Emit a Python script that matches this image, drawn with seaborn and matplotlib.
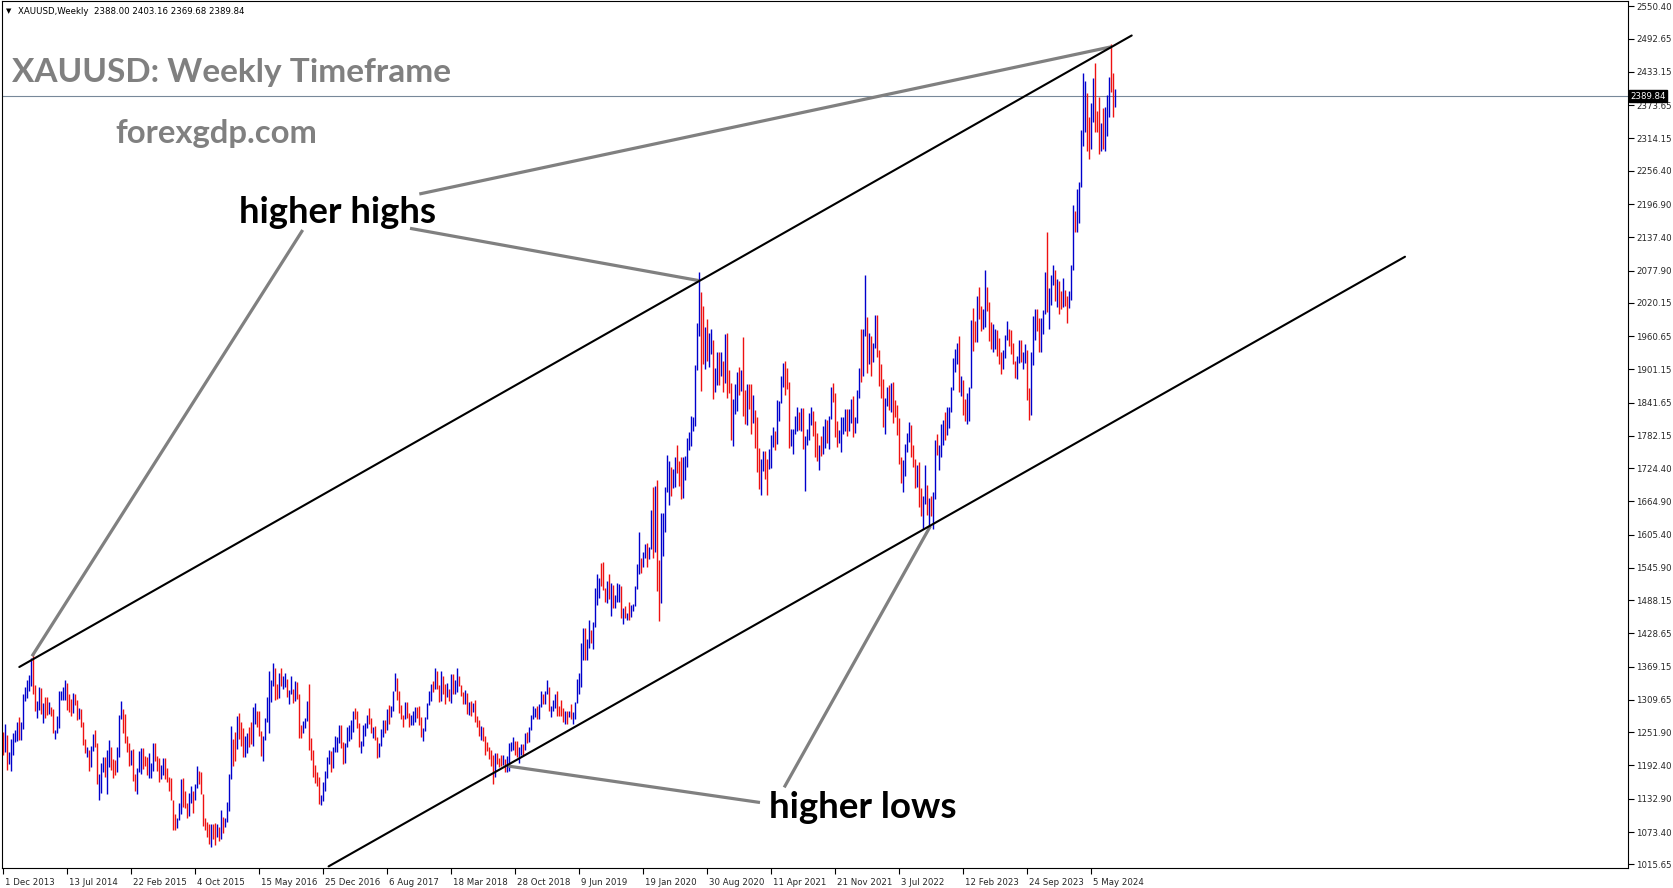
import numpy as np
import pandas as pd
import matplotlib
matplotlib.use("Agg")
import matplotlib.pyplot as plt
import matplotlib.transforms as mtransforms
import seaborn as sns

# ---------------- data (weekly XAUUSD bars, week of 1 Dec 2013 .. 28 Jul 2024) -------------
symbol = "XAUUSD,Weekly"
first_open = 1250.0

closes = [
    # 2013
    1229, 1235, 1203, 1213, 1237,
    # 2014
    1247, 1254, 1265, 1240, 1262, 1318, 1324, 1327, 1339, 1379, 1335, 1294, 1303, 1318, 1293, 1301, 1300, 1289,
    1293, 1292, 1251, 1252, 1274, 1316, 1316, 1317, 1337, 1310, 1303, 1294, 1310, 1305, 1280, 1287, 1268, 1230,
    1216, 1218, 1192, 1222, 1238, 1231, 1171, 1177, 1190, 1197, 1175, 1191, 1222, 1196, 1195, 1186,
    # 2015
    1216, 1277, 1293, 1279, 1234, 1228, 1204, 1212, 1165, 1153, 1182, 1198, 1219, 1207, 1203, 1178, 1178, 1189,
    1225, 1205, 1189, 1168, 1180, 1201, 1173, 1168, 1157, 1131, 1098, 1094, 1094, 1113, 1160, 1134, 1121, 1103,
    1138, 1146, 1137, 1156, 1182, 1163, 1141, 1088, 1081, 1077, 1056, 1086, 1076, 1065, 1076, 1061,
    # 2016
    1098, 1089, 1097, 1117, 1173, 1239, 1227, 1222, 1270, 1259, 1254, 1217, 1222, 1243, 1235, 1231, 1290, 1290,
    1273, 1252, 1213, 1242, 1275, 1298, 1322, 1339, 1366, 1327, 1322, 1351, 1335, 1336, 1340, 1321, 1326, 1328,
    1310, 1339, 1316, 1256, 1251, 1267, 1276, 1304, 1224, 1208, 1183, 1177, 1160, 1133, 1133, 1152,
    # 2017
    1173, 1197, 1205, 1190, 1220, 1234, 1235, 1257, 1226, 1201, 1229, 1249, 1249, 1253, 1287, 1284, 1268, 1227,
    1228, 1253, 1267, 1280, 1271, 1254, 1256, 1242, 1212, 1228, 1254, 1269, 1258, 1289, 1285, 1291, 1325, 1346,
    1320, 1297, 1280, 1275, 1304, 1280, 1266, 1270, 1275, 1294, 1287, 1280, 1248, 1256, 1278, 1303, 1320,
    # 2018
    1338, 1332, 1350, 1333, 1315, 1347, 1330, 1323, 1323, 1313, 1347, 1323, 1332, 1346, 1336, 1323, 1315, 1320,
    1291, 1302, 1294, 1299, 1278, 1270, 1252, 1254, 1241, 1231, 1223, 1214, 1211, 1184, 1206, 1201, 1198, 1193,
    1199, 1192, 1203, 1218, 1226, 1235, 1232, 1209, 1222, 1222, 1221, 1248, 1238, 1256, 1280, 1285,
    # 2019
    1290, 1282, 1298, 1318, 1314, 1322, 1328, 1293, 1298, 1302, 1313, 1292, 1291, 1290, 1276, 1287, 1280, 1285,
    1277, 1284, 1305, 1341, 1341, 1399, 1409, 1400, 1415, 1426, 1419, 1440, 1497, 1513, 1526, 1520, 1506, 1488,
    1516, 1497, 1504, 1488, 1490, 1505, 1510, 1459, 1468, 1462, 1463, 1460, 1476, 1479, 1510, 1552,
    # 2020
    1560, 1557, 1571, 1589, 1570, 1584, 1643, 1586, 1674, 1530, 1498, 1617, 1620, 1683, 1684, 1726, 1700, 1703,
    1743, 1735, 1730, 1684, 1730, 1743, 1771, 1775, 1799, 1811, 1902, 1975, 2035, 1944, 1940, 1964, 1933, 1940,
    1950, 1862, 1900, 1930, 1899, 1902, 1878, 1951, 1888, 1872, 1788, 1839, 1839, 1881, 1877, 1898,
    # 2021
    1849, 1828, 1856, 1848, 1813, 1824, 1784, 1734, 1700, 1727, 1745, 1732, 1729, 1744, 1777, 1777, 1769, 1831,
    1844, 1881, 1903, 1892, 1877, 1764, 1781, 1787, 1810, 1812, 1802, 1814, 1763, 1780, 1781, 1818, 1827, 1788,
    1754, 1751, 1761, 1757, 1767, 1793, 1783, 1817, 1864, 1846, 1788, 1783, 1783, 1797, 1810, 1828,
    # 2022
    1797, 1817, 1835, 1791, 1807, 1859, 1898, 1889, 1966, 1989, 1921, 1958, 1925, 1946, 1975, 1931, 1896, 1883,
    1811, 1846, 1853, 1851, 1871, 1840, 1827, 1811, 1742, 1708, 1727, 1766, 1775, 1802, 1747, 1738, 1712, 1716,
    1675, 1644, 1661, 1694, 1644, 1657, 1644, 1681, 1769, 1751, 1755, 1797, 1797, 1793, 1798, 1824,
    # 2023
    1865, 1920, 1926, 1928, 1865, 1865, 1841, 1811, 1855, 1867, 1989, 1978, 1969, 2007, 2004, 1982, 1990, 2017,
    2011, 1978, 1946, 1948, 1961, 1958, 1921, 1919, 1925, 1955, 1962, 1959, 1942, 1914, 1889, 1915, 1940, 1919,
    1924, 1925, 1849, 1833, 1933, 1981, 2006, 1993, 1940, 1981, 2002, 2072, 2004, 2019, 2053, 2063, 2045,
    # 2024
    2049, 2029, 2018, 2039, 2024, 2013, 2035, 2082, 2179, 2155, 2166, 2233, 2330, 2344, 2392, 2337, 2301, 2360,
    2414, 2334, 2327, 2294, 2333, 2322, 2326, 2392, 2411, 2400, 2388, 2389.84,
]

highs = [
    1252, 1267, 1247, 1216, 1240,
    1251, 1256, 1271, 1280, 1271, 1320, 1332, 1345, 1355, 1384, 1392, 1337, 1308, 1332, 1331, 1304, 1315, 1315,
    1306, 1297, 1294, 1256, 1281, 1325, 1326, 1332, 1346, 1340, 1320, 1312, 1322, 1321, 1310, 1296, 1294, 1270,
    1239, 1226, 1220, 1227, 1249, 1255, 1233, 1178, 1197, 1208, 1207, 1220, 1238, 1226, 1204, 1202,
    1225, 1282, 1307, 1292, 1284, 1246, 1233, 1221, 1222, 1178, 1188, 1219, 1224, 1224, 1210, 1207, 1214, 1196,
    1232, 1232, 1209, 1205, 1194, 1205, 1205, 1188, 1171, 1170, 1131, 1105, 1098, 1126, 1168, 1170, 1147, 1126,
    1143, 1156, 1145, 1160, 1191, 1178, 1181, 1142, 1098, 1092, 1087, 1088, 1088, 1089, 1088, 1082,
    1112, 1101, 1099, 1127, 1177, 1263, 1240, 1253, 1281, 1287, 1271, 1259, 1245, 1250, 1262, 1271, 1297, 1305,
    1284, 1290, 1254, 1245, 1277, 1315, 1362, 1345, 1375, 1366, 1338, 1358, 1367, 1352, 1357, 1348, 1327, 1352,
    1330, 1343, 1342, 1320, 1265, 1272, 1277, 1307, 1338, 1241, 1220, 1193, 1180, 1172, 1139, 1163,
    1182, 1207, 1220, 1219, 1226, 1245, 1244, 1264, 1264, 1234, 1233, 1261, 1264, 1274, 1289, 1295, 1290, 1268,
    1236, 1264, 1269, 1283, 1296, 1277, 1261, 1263, 1243, 1233, 1257, 1274, 1274, 1294, 1301, 1298, 1326, 1357,
    1349, 1325, 1301, 1283, 1306, 1306, 1286, 1283, 1289, 1297, 1297, 1299, 1280, 1260, 1280, 1305, 1326,
    1338, 1344, 1366, 1361, 1337, 1362, 1353, 1338, 1340, 1329, 1356, 1356, 1345, 1366, 1353, 1337, 1322, 1327,
    1322, 1306, 1308, 1304, 1310, 1281, 1274, 1263, 1262, 1245, 1235, 1226, 1220, 1211, 1214, 1214, 1206, 1211,
    1211, 1204, 1209, 1233, 1234, 1243, 1237, 1237, 1225, 1230, 1230, 1250, 1252, 1261, 1283, 1298,
    1295, 1298, 1303, 1326, 1320, 1326, 1346, 1332, 1299, 1310, 1320, 1325, 1298, 1310, 1296, 1289, 1289, 1289,
    1303, 1288, 1306, 1348, 1358, 1411, 1439, 1438, 1419, 1452, 1434, 1449, 1510, 1535, 1527, 1555, 1557, 1510,
    1523, 1535, 1519, 1516, 1498, 1518, 1517, 1514, 1474, 1477, 1466, 1484, 1480, 1482, 1514, 1553,
    1611, 1564, 1575, 1589, 1591, 1581, 1650, 1690, 1692, 1704, 1560, 1645, 1645, 1690, 1747, 1738, 1722, 1723,
    1745, 1765, 1737, 1745, 1744, 1746, 1779, 1789, 1818, 1815, 1908, 1984, 2075, 2039, 2015, 1976, 1992, 1966,
    1973, 1954, 1904, 1933, 1933, 1933, 1916, 1965, 1966, 1900, 1876, 1848, 1875, 1896, 1906, 1900,
    1959, 1865, 1875, 1875, 1875, 1855, 1828, 1816, 1760, 1740, 1755, 1755, 1740, 1758, 1784, 1798, 1790, 1846,
    1845, 1890, 1912, 1916, 1903, 1878, 1795, 1795, 1818, 1834, 1825, 1832, 1832, 1781, 1795, 1823, 1834, 1827,
    1808, 1787, 1765, 1781, 1800, 1813, 1810, 1818, 1870, 1877, 1859, 1809, 1793, 1815, 1815, 1831,
    1831, 1830, 1848, 1853, 1815, 1865, 1903, 1974, 1973, 2070, 1994, 1966, 1960, 1948, 1998, 1998, 1936, 1910,
    1884, 1850, 1870, 1874, 1877, 1879, 1847, 1837, 1814, 1745, 1739, 1767, 1788, 1807, 1802, 1765, 1740, 1730,
    1735, 1688, 1675, 1730, 1688, 1671, 1675, 1682, 1774, 1786, 1765, 1804, 1810, 1824, 1833, 1833,
    1870, 1922, 1937, 1949, 1960, 1890, 1882, 1848, 1858, 1870, 1989, 2010, 1987, 2032, 2048, 2015, 2009, 2079,
    2048, 2021, 1985, 1983, 1973, 1971, 1958, 1933, 1935, 1963, 1987, 1973, 1972, 1949, 1916, 1925, 1953, 1953,
    1933, 1947, 1935, 1867, 1932, 1997, 2009, 2009, 1993, 1993, 2008, 2075, 2146, 2047, 2070, 2088, 2078,
    2062, 2060, 2041, 2065, 2043, 2032, 2041, 2088, 2195, 2185, 2223, 2236, 2330, 2431, 2417, 2395, 2353, 2378,
    2422, 2450, 2364, 2388, 2342, 2368, 2370, 2392, 2425, 2483, 2432, 2403.16,
]

lows = [
    1211, 1217, 1185, 1195, 1182,
    1211, 1234, 1236, 1238, 1238, 1258, 1307, 1314, 1325, 1334, 1321, 1290, 1277, 1292, 1284, 1268, 1277, 1283,
    1284, 1281, 1251, 1240, 1250, 1259, 1309, 1310, 1310, 1292, 1288, 1281, 1286, 1301, 1273, 1276, 1261, 1229,
    1214, 1207, 1183, 1190, 1219, 1225, 1160, 1131, 1144, 1180, 1172, 1142, 1190, 1185, 1170, 1176,
    1180, 1207, 1276, 1251, 1232, 1216, 1191, 1194, 1164, 1147, 1142, 1180, 1178, 1186, 1191, 1175, 1170, 1170,
    1183, 1201, 1183, 1162, 1171, 1175, 1168, 1162, 1147, 1130, 1077, 1077, 1080, 1094, 1105, 1118, 1117, 1098,
    1102, 1125, 1108, 1130, 1152, 1160, 1141, 1085, 1077, 1065, 1052, 1046, 1061, 1051, 1064, 1058,
    1060, 1071, 1082, 1092, 1111, 1168, 1191, 1200, 1224, 1240, 1227, 1207, 1208, 1215, 1225, 1231, 1228, 1267,
    1261, 1245, 1209, 1200, 1238, 1270, 1250, 1306, 1335, 1310, 1311, 1314, 1334, 1330, 1333, 1315, 1302, 1320,
    1305, 1308, 1311, 1241, 1241, 1250, 1259, 1272, 1220, 1203, 1171, 1161, 1156, 1123, 1122, 1129,
    1146, 1170, 1195, 1180, 1188, 1216, 1216, 1232, 1223, 1195, 1196, 1226, 1236, 1240, 1253, 1275, 1260, 1226,
    1214, 1229, 1245, 1259, 1267, 1251, 1242, 1238, 1205, 1207, 1227, 1244, 1250, 1255, 1267, 1280, 1290, 1325,
    1310, 1287, 1275, 1261, 1275, 1277, 1262, 1264, 1265, 1270, 1278, 1265, 1244, 1236, 1254, 1275, 1301,
    1307, 1323, 1329, 1330, 1306, 1307, 1321, 1303, 1315, 1308, 1305, 1321, 1321, 1324, 1334, 1316, 1302, 1303,
    1285, 1283, 1281, 1288, 1270, 1261, 1245, 1238, 1237, 1211, 1218, 1204, 1192, 1160, 1172, 1195, 1189, 1192,
    1193, 1180, 1181, 1183, 1220, 1220, 1211, 1207, 1196, 1211, 1211, 1220, 1232, 1235, 1255, 1276,
    1279, 1276, 1276, 1297, 1302, 1302, 1321, 1290, 1280, 1290, 1296, 1281, 1281, 1281, 1271, 1266, 1267, 1279,
    1275, 1266, 1275, 1305, 1321, 1332, 1381, 1381, 1382, 1402, 1411, 1400, 1440, 1480, 1492, 1514, 1506, 1485,
    1483, 1490, 1459, 1474, 1474, 1484, 1484, 1456, 1445, 1456, 1452, 1453, 1458, 1469, 1478, 1508,
    1535, 1536, 1548, 1563, 1547, 1561, 1580, 1563, 1575, 1504, 1451, 1483, 1567, 1610, 1682, 1659, 1675, 1688,
    1690, 1716, 1692, 1670, 1671, 1704, 1726, 1757, 1764, 1791, 1799, 1900, 1960, 1863, 1911, 1902, 1916, 1906,
    1929, 1848, 1860, 1873, 1873, 1890, 1860, 1876, 1850, 1859, 1775, 1764, 1821, 1826, 1855, 1863,
    1817, 1803, 1802, 1831, 1785, 1806, 1760, 1717, 1687, 1676, 1719, 1705, 1677, 1722, 1724, 1763, 1756, 1768,
    1808, 1841, 1870, 1856, 1866, 1761, 1767, 1750, 1785, 1791, 1793, 1790, 1759, 1684, 1765, 1775, 1801, 1782,
    1745, 1738, 1721, 1746, 1750, 1760, 1770, 1758, 1813, 1842, 1780, 1762, 1770, 1753, 1785, 1790,
    1782, 1790, 1805, 1780, 1788, 1806, 1849, 1878, 1889, 1961, 1895, 1910, 1890, 1915, 1940, 1924, 1872, 1850,
    1798, 1786, 1835, 1829, 1825, 1805, 1816, 1784, 1732, 1697, 1681, 1711, 1754, 1771, 1745, 1727, 1688, 1691,
    1654, 1639, 1615, 1660, 1640, 1617, 1638, 1616, 1670, 1747, 1721, 1744, 1765, 1774, 1784, 1797,
    1824, 1867, 1896, 1911, 1861, 1853, 1819, 1809, 1804, 1809, 1867, 1934, 1950, 1950, 1991, 1969, 1974, 1976,
    2005, 1952, 1938, 1932, 1938, 1925, 1911, 1893, 1902, 1921, 1953, 1942, 1928, 1911, 1885, 1884, 1913, 1915,
    1901, 1913, 1846, 1810, 1820, 1908, 1953, 1970, 1932, 1932, 1965, 2001, 2004, 1973, 2016, 2052, 2024,
    2013, 2001, 2009, 2012, 2015, 1984, 2010, 2025, 2078, 2146, 2146, 2163, 2228, 2300, 2325, 2291, 2277, 2295,
    2343, 2325, 2326, 2287, 2292, 2295, 2291, 2318, 2353, 2398, 2353, 2369.68,
]

last_open = 2388.00

date_labels = ["1 Dec 2013", "13 Jul 2014", "22 Feb 2015", "4 Oct 2015", "15 May 2016", "25 Dec 2016",
               "6 Aug 2017", "18 Mar 2018", "28 Oct 2018", "9 Jun 2019", "19 Jan 2020", "30 Aug 2020",
               "11 Apr 2021", "21 Nov 2021", "3 Jul 2022", "12 Feb 2023", "24 Sep 2023", "5 May 2024"]
date_label_weeks = [0, 32, 64, 96, 128, 160, 192, 224, 256, 288, 320, 352, 384, 416, 448, 480, 512, 544]

price_ticks = [2550.40, 2492.65, 2433.15, 2373.65, 2314.15, 2256.40, 2196.90, 2137.40, 2077.90, 2020.15,
               1960.65, 1901.15, 1841.65, 1782.15, 1724.40, 1664.90, 1605.40, 1545.90, 1488.15, 1428.65,
               1369.15, 1309.65, 1251.90, 1192.40, 1132.90, 1073.40, 1015.65]

# channel lines (week index, price)
upper_channel_w = [8.15, 564.35]
upper_channel_p = [1368.6, 2498.4]
lower_channel_w = [162.8, 701.0]
lower_channel_p = [1011.9, 2102.6]

# annotation pointer lines (week index, price)
pointer_w = [[149.85, 14.5], [203.5, 347.95], [208.15, 554.35], [252.5, 378.5], [390.6, 463.7]]
pointer_p = [[2150.4, 1387.9], [2153.4, 2059.9], [2214.8, 2478.3], [1191.4, 1126.2], [1153.2, 1620.8]]

# ---------------- build frame ----------------
n = len(closes)
opens = [first_open] + closes[:-1]
opens[-1] = last_open
df = pd.DataFrame({"week": np.arange(n), "open": opens, "high": highs, "low": lows, "close": closes})
df["top"] = df[["high", "open", "close"]].max(axis=1)
df["bot"] = df[["low", "open", "close"]].min(axis=1)
df["dir"] = np.where(df["close"] >= df["open"], "up", "down")

# ---------------- style ----------------
sns.set_style("white")
plt.rcParams["font.family"] = ["DejaVu Sans"]

W, H = 1673, 888
fig = plt.figure(figsize=(W / 100, H / 100), dpi=100)
fig.patch.set_facecolor("white")
ax = fig.add_axes([2 / W, (H - 868) / H, 1626 / W, 867 / H])
ax.set_facecolor("white")

UP, DOWN = "#0000CC", "#EE1111"
up = df[df["dir"] == "up"]
dn = df[df["dir"] == "down"]
ax.vlines(up["week"], up["bot"], up["top"], colors=UP, linewidth=1.0)
ax.vlines(dn["week"], dn["bot"], dn["top"], colors=DOWN, linewidth=1.0)

# current price line
ax.axhline(closes[-1], color="#778899", linewidth=0.8, zorder=1)

# channel lines
ch = pd.DataFrame({"w": upper_channel_w + lower_channel_w,
                   "p": upper_channel_p + lower_channel_p,
                   "line": ["upper", "upper", "lower", "lower"]})
sns.lineplot(data=ch, x="w", y="p", units="line", estimator=None, color="black", linewidth=1.5,
             ax=ax, legend=False, zorder=4)

# pointer lines
for ws, ps in zip(pointer_w, pointer_p):
    ax.plot(ws, ps, color="#808080", linewidth=2.3, solid_capstyle="butt", zorder=3)

ax.set_xlim(-0.5, 812.5)
ax.set_ylim(1009.0, 2560.1)
ax.set_xlabel("")
ax.set_ylabel("")

for s in ax.spines.values():
    s.set_visible(True)
    s.set_color("black")
    s.set_linewidth(0.8)

ax.yaxis.tick_right()
ax.set_yticks(price_ticks)
ax.set_yticklabels([f"{v:.2f}" for v in price_ticks])
ax.tick_params(axis="y", which="both", direction="out", length=4, width=0.8, color="black",
               labelsize=6.2, pad=2, right=True, left=False)

ax.set_xticks(date_label_weeks)
ax.set_xticklabels(date_labels, ha="left")
ax.tick_params(axis="x", direction="out", length=4, width=0.8, color="black", labelsize=6.2, pad=3,
               bottom=True)
offset = mtransforms.ScaledTranslation(2 / 100, 0, fig.dpi_scale_trans)
for lbl in ax.get_xticklabels():
    lbl.set_transform(lbl.get_transform() + offset)

# last price tag
tag_tr = mtransforms.blended_transform_factory(ax.transAxes, ax.transData)
ax.text(1.0015, closes[-1], f"{closes[-1]:.2f}", transform=tag_tr, color="white", fontsize=6.2,
        ha="left", va="center", zorder=10,
        bbox=dict(facecolor="black", edgecolor="black", boxstyle="square,pad=0.15"))

# header
fig.text(6 / W, 1 - 11 / H, "\u25BC", fontsize=5, color="black", ha="left", va="center")
fig.text(18 / W, 1 - 11 / H,
         f"{symbol}  {last_open:.2f} {highs[-1]:.2f} {lows[-1]:.2f} {closes[-1]:.2f}",
         fontsize=6.2, color="black", ha="left", va="center")

GRAY = "#808080"
fig.text(12.5 / W, 1 - 81.7 / H, "XAUUSD: Weekly Timeframe", family=["Lato", "DejaVu Sans"],
         fontweight="bold", fontsize=24.0, color=GRAY, ha="left", va="baseline")
fig.text(115.5 / W, 1 - 142.7 / H, "forexgdp.com", family=["Lato", "DejaVu Sans"],
         fontweight="bold", fontsize=23.7, color=GRAY, ha="left", va="baseline")
fig.text(337.5 / W, 1 - 222.7 / H, "higher highs", family=["Lato", "DejaVu Sans"],
         fontweight="bold", fontsize=26.3, color="black", ha="center", va="baseline")
fig.text(862.6 / W, 1 - 818 / H, "higher lows", family=["Lato", "DejaVu Sans"],
         fontweight="bold", fontsize=26.4, color="black", ha="center", va="baseline")

fig.savefig("out.png", dpi=100, facecolor="white")
